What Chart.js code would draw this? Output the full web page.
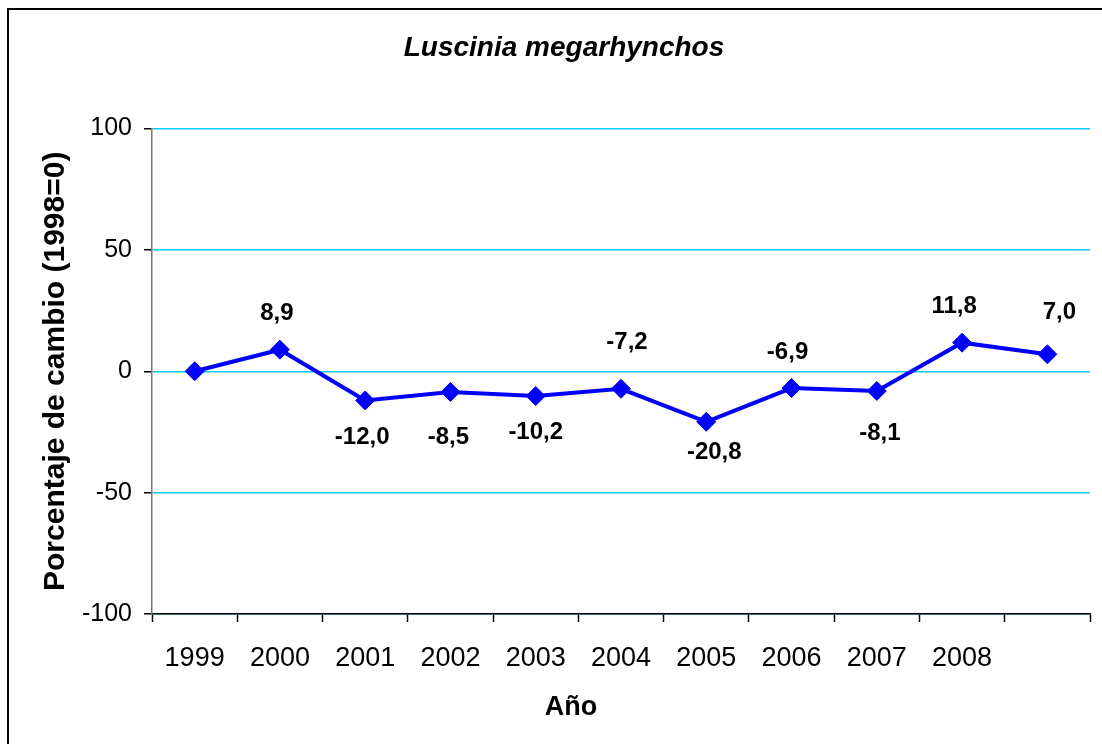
<!DOCTYPE html>
<html>
<head>
<meta charset="utf-8">
<script src="https://cdn.jsdelivr.net/npm/chart.js@4.4.1/dist/chart.umd.min.js"></script>
<style>
    html, body { margin: 0; padding: 0; background: #fff; overflow: hidden; }
    #frame { position: absolute; left: 7px; top: 8px; width: 1200px; height: 900px; border: 2px solid #000; }
    #chart { position: absolute; left: 0; top: 0; }
</style>
</head>
<body>
<div id="frame"></div>
<canvas id="chart" width="1102" height="744"></canvas>
<script>
const years = ["1999", "2000", "2001", "2002", "2003", "2004", "2005", "2006", "2007", "2008", ""];
const changeValues = [0, 8.9, -12.0, -8.5, -10.2, -7.2, -20.8, -6.9, -8.1, 11.8, 7.0];
const yTicks = [-100, -50, 0, 50, 100];

// label nudges (dx, dy) from the point, null = no label
const labelNudge = [null, [-3, -36], [-3, 37], [-2, 45], [0, 36], [6, -46], [8, 31], [-4, -36], [3, 42], [-8, -36], [12, -42]];

const FONT = "'Liberation Sans', Arial, sans-serif";

const pointLabels = {
    id: "pointLabels",
    afterDatasetsDraw(chart) {
        const ctx = chart.ctx;
        const meta = chart.getDatasetMeta(0);
        ctx.save();
        ctx.font = "bold 24px " + FONT;
        ctx.fillStyle = "#000";
        ctx.textAlign = "center";
        ctx.textBaseline = "middle";
        meta.data.forEach(function (pt, i) {
            const n = labelNudge[i];
            if (!n) return;
            const txt = changeValues[i].toFixed(1).replace(".", ",");
            ctx.fillText(txt, pt.x + n[0], pt.y + n[1]);
        });
        ctx.restore();
    },
    afterDraw(chart) {
        // x axis title, set a little left of centre like the original
        const ctx = chart.ctx;
        const area = chart.chartArea;
        ctx.save();
        ctx.font = "bold 27px " + FONT;
        ctx.fillStyle = "#000";
        ctx.textAlign = "center";
        ctx.textBaseline = "middle";
        ctx.fillText("Año", (area.left + area.right) / 2 - 50, chart.scales.x.bottom - 16);
        ctx.restore();
    }
};

new Chart(document.getElementById("chart"), {
    type: "line",
    data: {
        labels: years,
        datasets: [
            {
                data: changeValues,
                borderColor: "#0000FF",
                backgroundColor: "#0000FF",
                borderWidth: 4,
                pointStyle: "rectRot",
                pointRadius: 9.5,
                pointBorderWidth: 1,
                tension: 0
            }
        ]
    },
    options: {
        responsive: false,
        animation: false,
        layout: {
            padding: { left: 38, right: 12, top: 0, bottom: 20 }
        },
        plugins: {
            legend: { display: false },
            tooltip: { enabled: false },
            title: {
                display: true,
                text: "Luscinia megarhynchos",
                color: "#000",
                font: { family: FONT, size: 28, weight: "bold", style: "italic" },
                padding: { top: 31, bottom: 64 }
            }
        },
        scales: {
            x: {
                offset: true,
                grid: {
                    offset: true,
                    drawOnChartArea: false,
                    tickLength: 8,
                    tickColor: "#000",
                    tickWidth: 1.5
                },
                border: { color: "#000", width: 1.5 },
                ticks: {
                    color: "#000",
                    font: { family: FONT, size: 27 },
                    padding: 20,
                    maxRotation: 0,
                    autoSkip: false
                },
                afterFit(scale) { scale.height = 110; }
            },
            y: {
                min: yTicks[0],
                max: yTicks[yTicks.length - 1],
                ticks: {
                    stepSize: 50,
                    color: "#000",
                    font: { family: FONT, size: 25 },
                    padding: 12
                },
                grid: {
                    color: "#00CCFF",
                    lineWidth: 1.5,
                    tickLength: 8,
                    tickColor: "#000",
                    tickWidth: 1.5
                },
                border: { color: "#777", width: 1.5 },
                title: {
                    display: true,
                    text: "Porcentaje de cambio (1998=0)",
                    color: "#000",
                    font: { family: FONT, size: 30, weight: "bold" },
                    padding: { top: 0, bottom: 0 }
                },
                afterFit(scale) { scale.width = 114; }
            }
        }
    },
    plugins: [pointLabels]
});
</script>
</body>
</html>
